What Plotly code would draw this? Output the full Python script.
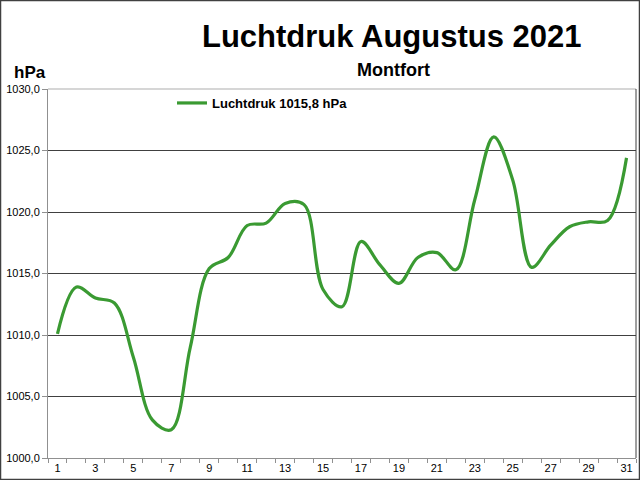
import plotly.graph_objects as go

# daily air pressure, Montfort, August 2021 (hPa)
days = list(range(1, 32))
pressure = [
    1010.1, 1013.9, 1013.0, 1012.6, 1008.2, 1003.1, 1002.3, 1009.0,
    1015.4, 1016.3, 1018.9, 1019.1, 1020.7, 1020.6, 1013.7, 1012.3,
    1017.6, 1015.7, 1014.2, 1016.3, 1016.7, 1015.3, 1021.0, 1026.1,
    1022.6, 1015.5, 1017.3, 1018.8, 1019.2, 1019.3, 1024.4,
]
y_ticks = [1000, 1005, 1010, 1015, 1020, 1025, 1030]
x_labels = list(range(1, 32, 2))

W, H = 640, 480
L, R, T, B = 48, 4, 89, 22
pw, ph = W - L - R, H - T - B

font = 'Liberation Sans, Arial, sans-serif'

fig = go.Figure()
fig.add_trace(go.Scatter(
    x=days,
    y=pressure,
    mode='lines',
    name='<b>Luchtdruk 1015,8 hPa</b>',
    line=dict(color='#3a9a32', width=3.2, shape='spline', smoothing=1.0),
))

fig.update_layout(
    width=W, height=H,
    margin=dict(l=L, r=R, t=T, b=B, autoexpand=False),
    paper_bgcolor='white',
    plot_bgcolor='white',
    separators=',.',
    font=dict(family=font, size=12, color='black'),
    showlegend=True,
    legend=dict(
        x=(172 - L) / pw, y=(H - B - 103) / ph,
        xanchor='left', yanchor='middle',
        bgcolor='rgba(0,0,0,0)',
        itemwidth=30,
        font=dict(family=font, size=13),
    ),
    xaxis=dict(
        automargin=False,
        range=[0.5, 31.5],
        tickmode='array',
        tickvals=x_labels,
        ticktext=[str(d) for d in x_labels],
        ticks='',
        showgrid=False,
        showline=True,
        linecolor='#909090',
        linewidth=1,
        zeroline=False,
        tickfont=dict(size=11),
        minor=dict(ticks='outside', tickmode='linear', tick0=0.5, dtick=1,
                   ticklen=4, tickcolor='#909090', showgrid=False),
    ),
    yaxis=dict(
        automargin=False,
        range=[1000, 1030],
        tickmode='array',
        tickvals=y_ticks,
        tickformat='.1f',
        ticks='outside',
        ticklen=5,
        tickcolor='#909090',
        showgrid=True,
        gridcolor='#404040',
        gridwidth=1,
        showline=True,
        linecolor='#909090',
        zeroline=False,
        tickfont=dict(size=11),
    ),
)

# top border of the plot area (light) and right border (dark)
fig.add_shape(type='line', xref='paper', yref='paper', x0=0, x1=1, y0=1, y1=1,
              line=dict(color='#c8c8c8', width=1.5))
fig.add_shape(type='line', xref='paper', yref='paper', x0=1, x1=1, y0=0, y1=1,
              line=dict(color='#404040', width=1))
# outer frame of the picture
fig.add_shape(type='rect', xref='paper', yref='paper',
              x0=(0.5 - L) / pw, x1=(W - 0.5 - L) / pw,
              y0=(H - B - (H - 0.5)) / ph, y1=(H - B - 0.5) / ph,
              line=dict(color='#404040', width=1.5))

fig.add_annotation(text='<b>Luchtdruk Augustus 2021</b>', xref='paper', yref='paper',
                   x=(392 - L) / pw, y=(H - B - 36) / ph, showarrow=False,
                   xanchor='center', yanchor='middle',
                   font=dict(family=font, size=31, color='black'))
fig.add_annotation(text='<b>Montfort</b>', xref='paper', yref='paper',
                   x=(393 - L) / pw, y=(H - B - 70) / ph, showarrow=False,
                   xanchor='center', yanchor='middle',
                   font=dict(family=font, size=18, color='black'))
fig.add_annotation(text='<b>hPa</b>', xref='paper', yref='paper',
                   x=(30 - L) / pw, y=(H - B - 72) / ph, showarrow=False,
                   xanchor='center', yanchor='middle',
                   font=dict(family=font, size=17, color='black'))

# the page body has a default margin; drop it so the figure fills the window
fig.write_html('out.html',
               config={'displayModeBar': False},
               post_script="document.body.style.margin='0';"
                           "document.body.style.overflow='hidden';")
